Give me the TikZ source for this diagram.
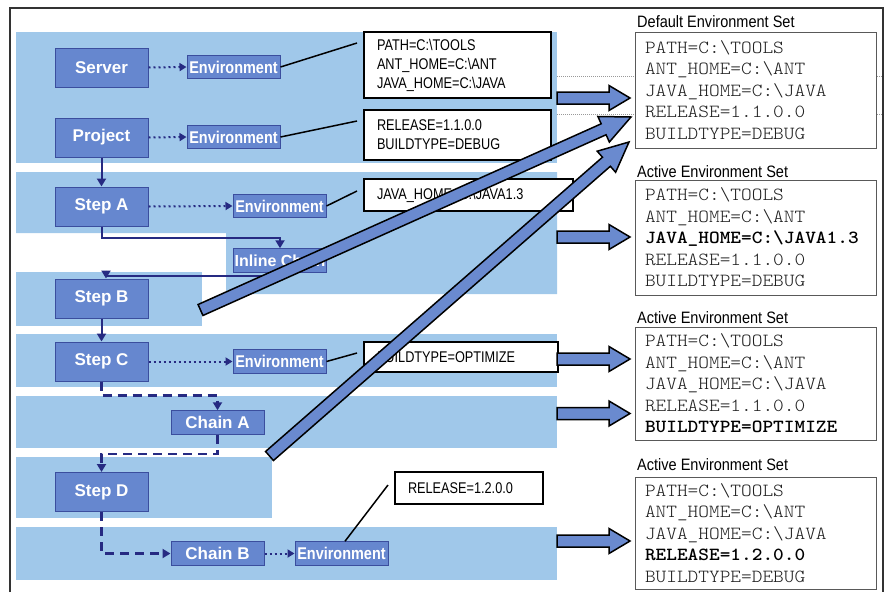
\documentclass[tikz,border=0pt]{standalone}
\usepackage{fontspec}
\setmainfont{Liberation Sans}
\newfontfamily\setmono[FakeStretch=1.1]{Latin Modern Mono Light}
\newfontfamily\condfont[FakeStretch=0.85]{Liberation Sans}
\newfontfamily\narrowfont[FakeStretch=0.82]{Liberation Sans}
\newfontfamily\titlefont[FakeStretch=0.88]{Liberation Sans}
\usetikzlibrary{calc,arrows.meta}
\definecolor{band}{HTML}{A0C8EA}
\definecolor{nfill}{HTML}{6687CF}
\definecolor{nborder}{HTML}{3B4E9E}
\definecolor{navy}{HTML}{262A82}
\definecolor{afill}{HTML}{6A8ACF}
\definecolor{graytxt}{HTML}{1E1E1E}
\tikzset{
  mainnode/.style={fill=nfill, draw=nborder, line width=1pt, text=white, inner sep=0pt,
    minimum width=93pt, minimum height=39pt, font=\fontsize{17}{20}\selectfont\bfseries},
  envnode/.style={mainnode, minimum height=23.5pt, font=\condfont\fontsize{17}{20}\selectfont\bfseries},
  chainnode/.style={mainnode, minimum height=23.5pt},
  tbox/.style={draw=black, line width=2pt, fill=white, align=left, inner xsep=13pt, inner ysep=0pt,
    font=\narrowfont\fontsize{15.5}{19}\selectfont},
  rbox/.style={draw=black!65, line width=0.9pt, fill=white, inner xsep=10pt, inner ysep=0pt,
    text width=221pt, align=left, font=\setmono\fontsize{18.5}{21.5}\selectfont, text=graytxt},
  settitle/.style={anchor=west, inner sep=0pt, font=\titlefont\fontsize{16.5}{18}\selectfont},
  dotarrow/.style={navy, line width=2pt, dash pattern=on 2pt off 3pt, -{Triangle[length=7pt,width=8pt]}},
  solidarrow/.style={navy, line width=2pt, -{Triangle[length=8pt,width=9pt]}},
  dasharrow/.style={navy, line width=2.5pt, dash pattern=on 9pt off 6pt, -{Triangle[length=8pt,width=9pt]}},
  callout/.style={black, line width=1.5pt},
  barrow/.style={fill=afill, draw=black, line width=1.5pt, line join=miter},
}
\newcommand\blockarr[5]{%
  \path ($(#2)!#5!(#1)$) coordinate (hb);
  \draw[barrow] ($(#1)!#3!90:(#2)$) -- ($(hb)!#3!-90:(#1)$) -- ($(hb)!#4!-90:(#1)$) -- (#2)
    -- ($(hb)!#4!90:(#1)$) -- ($(hb)!#3!90:(#1)$) -- ($(#1)!#3!-90:(#2)$) -- cycle;
}
\begin{document}
\begin{tikzpicture}[x=1pt,y=-1pt]
\useasboundingbox (0,0) rectangle (885,592);
% bands
\fill[band] (16,32) rectangle (557,163);
\fill[band] (16,172) -- (557,172) -- (557,294) -- (226,294) -- (226,233) -- (16,233) -- cycle;
\fill[band] (16,272) rectangle (202,326);
\fill[band] (16,334) rectangle (557,387);
\fill[band] (16,396) rectangle (557,448);
\fill[band] (16,457) rectangle (272,518);
\fill[band] (16,527) rectangle (557,580);
% frame
\draw[line width=1.3pt, black!80] (10,592) -- (10,8) -- (883,8) -- (883,592);
% gray dotted guide lines
\draw[black!40, dash pattern=on 1pt off 1pt, line width=0.7pt] (557,76) -- (883,76);
\draw[black!40, dash pattern=on 1pt off 1pt, line width=0.7pt] (557,114) -- (883,114);
% right boxes
\node[settitle] (t0) at (637,22) {Default Environment Set};
\node[rbox, minimum height=116pt] (set0) at (755.5,90) {PATH=C:\textbackslash TOOLS\\ANT\_HOME=C:\textbackslash ANT\\JAVA\_HOME=C:\textbackslash JAVA\\RELEASE=1.1.0.0\\BUILDTYPE=DEBUG};
\node[settitle] (t1) at (637,172) {Active Environment Set};
\node[rbox, minimum height=115pt] (set1) at (755.5,237.5) {PATH=C:\textbackslash TOOLS\\ANT\_HOME=C:\textbackslash ANT\\\textcolor{black}{\bfseries JAVA\_HOME=C:\textbackslash JAVA1.3}\\RELEASE=1.1.0.0\\BUILDTYPE=DEBUG};
\node[settitle] (t2) at (637,318) {Active Environment Set};
\node[rbox, minimum height=113pt] (set2) at (755.5,383.5) {PATH=C:\textbackslash TOOLS\\ANT\_HOME=C:\textbackslash ANT\\JAVA\_HOME=C:\textbackslash JAVA\\RELEASE=1.1.0.0\\\textcolor{black}{\bfseries BUILDTYPE=OPTIMIZE}};
\node[settitle] (t3) at (637,465) {Active Environment Set};
\node[rbox, minimum height=112pt] (set3) at (755.5,533) {PATH=C:\textbackslash TOOLS\\ANT\_HOME=C:\textbackslash ANT\\JAVA\_HOME=C:\textbackslash JAVA\\\textcolor{black}{\bfseries RELEASE=1.2.0.0}\\BUILDTYPE=DEBUG};
% main nodes
\node[mainnode] (server) at (101.5,67.5) {Server};
\node[mainnode] (project) at (101.5,137.5) {Project};
\node[mainnode] (stepA) at (101.5,206.5) {Step A};
\node[mainnode] (stepB) at (101.5,298.5) {Step B};
\node[mainnode] (stepC) at (101.5,361.5) {Step C};
\node[mainnode] (stepD) at (101.5,492) {Step D};
\node[chainnode] (chainA) at (217.5,422.5) {Chain A};
\node[chainnode] (chainB) at (217.5,553.5) {Chain B};
\node[chainnode, font=\fontsize{16}{19}\selectfont\bfseries] (inline) at (280,260.5) {Inline Chain};
\node[envnode] (envS) at (233.5,67) {Environment};
\node[envnode] (envP) at (233.5,137) {Environment};
\node[envnode] (envA) at (279.5,206) {Environment};
\node[envnode] (envC) at (279.5,361.5) {Environment};
\node[envnode] (envB) at (341.5,553.5) {Environment};
% flow connectors
\draw[dotarrow] (server.east) -- (envS.west);
\draw[dotarrow] (project.east) -- (envP.west);
\draw[dotarrow] (stepA.east) -- (envA.west);
\draw[dotarrow] (stepC.east) -- (envC.west);
\draw[dotarrow] (chainB.east) -- (envB.west);
\draw[solidarrow] (project) -- (stepA);
\draw[solidarrow] (stepA.south) -- ++(0,11) -| (inline.north);
\coordinate (bTop) at ($(stepB.north)+(4.5,-3)$);
\draw[navy, line width=2pt] (inline.south) |- (bTop);
\draw[solidarrow] ($(stepB.north)+(4.5,-8)$) -- ($(stepB.north)+(4.5,0)$);
\draw[solidarrow] (stepB) -- (stepC);
\draw[dasharrow] (stepC.south) -- ++(0,14) -| (chainA.north);
\draw[dasharrow] (chainA.south) -- ++(0,19) -| (stepD.north);
\draw[dasharrow] (stepD.south) |- (chainB.west);
% text boxes
\node[tbox, text width=161pt, minimum height=66pt] (tb1) at (457.5,65) {PATH=C:\textbackslash TOOLS\\ANT\_HOME=C:\textbackslash ANT\\JAVA\_HOME=C:\textbackslash JAVA};
\node[tbox, text width=161pt, minimum height=50pt] (tb2) at (457.5,135) {RELEASE=1.1.0.0\\BUILDTYPE=DEBUG};
\node[tbox, text width=183pt, minimum height=32pt] (tb3) at (468.5,195) {JAVA\_HOME=C:\textbackslash JAVA1.3};
\node[tbox, text width=168pt, minimum height=30pt] (tb4) at (461,357) {BUILDTYPE=OPTIMIZE};
\node[tbox, text width=122pt, minimum height=32pt] (tb5) at (469,488) {RELEASE=1.2.0.0};
% callout lines
\coordinate (c1) at (357,43);
\coordinate (c2) at (357,121);
\coordinate (c3) at (357,191);
\coordinate (c4) at (357,353);
\coordinate (c5) at (388,485);
\draw[callout] (envS.east) -- (c1);
\draw[callout] (envP.east) -- (c2);
\draw[callout] (envA.east) -- (c3);
\draw[callout] (envC.east) -- (c4);
\draw[callout] ($(envB.north)+(3.5,0)$) -- (c5);
% horizontal block arrows
\coordinate (h1t) at (557,98);  \coordinate (h1h) at (630,98);
\coordinate (h2t) at (557,237); \coordinate (h2h) at (630,237);
\coordinate (h3t) at (557,359); \coordinate (h3h) at (630,359);
\coordinate (h4t) at (557,413.5); \coordinate (h4h) at (630,413.5);
\coordinate (h5t) at (557,541); \coordinate (h5h) at (630,541);
\blockarr{h1t}{h1h}{6pt}{12.5pt}{21pt}
\blockarr{h2t}{h2h}{6pt}{12.5pt}{21pt}
\blockarr{h3t}{h3h}{6pt}{12.5pt}{21pt}
\blockarr{h4t}{h4h}{6pt}{12.5pt}{21pt}
\blockarr{h5t}{h5h}{6pt}{12.5pt}{21pt}
% diagonal block arrows
\coordinate (dAt) at (200.5,310); \coordinate (dAh) at (631,117);
\coordinate (dBt) at (269.5,456); \coordinate (dBh) at (629,142);
\blockarr{dAt}{dAh}{6pt}{14pt}{30pt}
\blockarr{dBt}{dBh}{6pt}{14pt}{30pt}
\end{tikzpicture}
\end{document}
